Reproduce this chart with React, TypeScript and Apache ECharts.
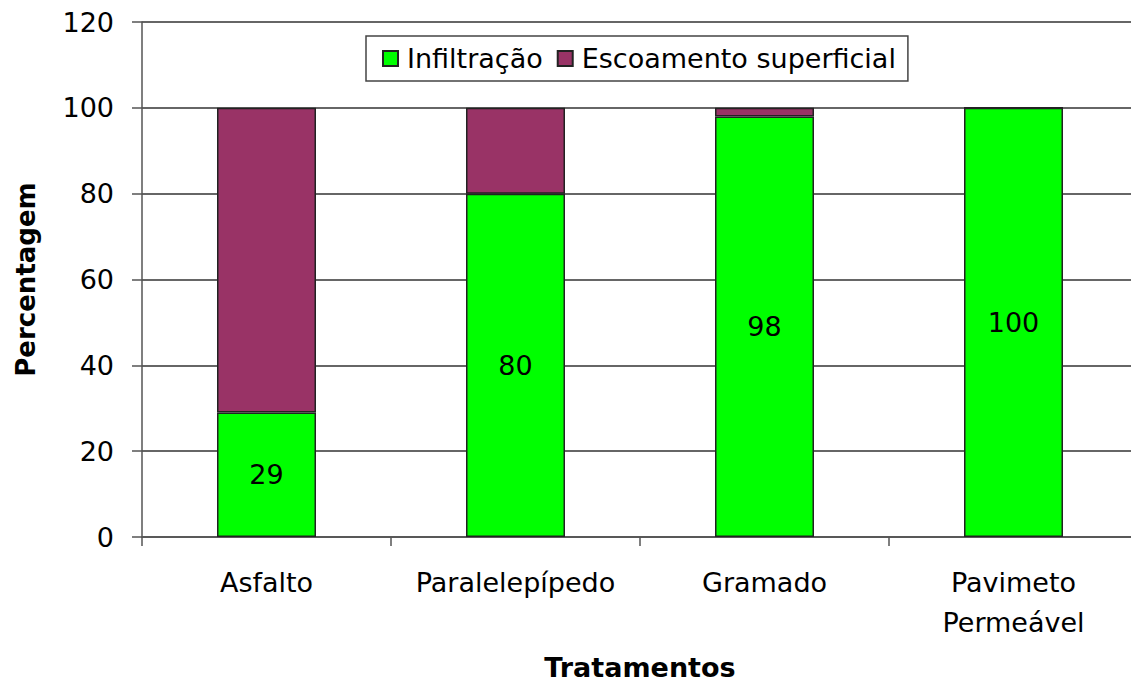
import React, { useEffect, useRef } from "react";
import * as echarts from "echarts";

const categories = ["Asfalto", "Paralelepípedo", "Gramado", "Pavimeto\nPermeável"];
const infiltracao = [29, 80, 98, 100];
const escoamento = [71, 20, 2, 0];
const seriesNames = ["Infiltração", "Escoamento superficial"];
const yTicks = { min: 0, max: 120, interval: 20 };

const FONT = "DejaVu Sans";

export default function App() {
  const ref = useRef<HTMLDivElement>(null);
  useEffect(() => {
    if (!ref.current) return;
    const chart = echarts.init(ref.current, null, { renderer: "svg" });
    chart.setOption({
      animation: false,
      textStyle: { fontFamily: FONT },
      grid: { left: 142, top: 22, width: 996, height: 515, outerBoundsMode: "none", containLabel: false },
      legend: {
        left: 366,
        top: 36,
        padding: [9, 12, 9, 16],
        borderColor: "#444",
        borderWidth: 1.5,
        itemWidth: 15,
        itemHeight: 15,
        itemGap: 14,
        icon: "rect",
        textStyle: { fontSize: 27, color: "#000", fontFamily: FONT, padding: [0, 0, 0, 4] },
        data: seriesNames,
      },
      xAxis: {
        type: "category",
        data: categories,
        boundaryGap: true,
        axisLine: { show: true, lineStyle: { color: "#555", width: 1.5 } },
        axisTick: { show: true, interval: 0, length: 9, alignWithLabel: false, lineStyle: { color: "#555", width: 1.5 } },
        axisLabel: { interval: 0, hideOverlap: false, fontSize: 27, color: "#000", margin: 25, lineHeight: 40, fontFamily: FONT },
        name: "Tratamentos",
        nameLocation: "middle",
        nameGap: 117,
        nameTextStyle: { fontSize: 27, fontWeight: "bold", color: "#000", fontFamily: FONT },
      },
      yAxis: {
        type: "value",
        min: yTicks.min,
        max: yTicks.max,
        interval: yTicks.interval,
        axisLine: { show: true, lineStyle: { color: "#555", width: 1.5 } },
        axisTick: { show: true, length: 10, lineStyle: { color: "#555", width: 1.5 } },
        axisLabel: { fontSize: 27, color: "#000", margin: 28, fontFamily: FONT },
        splitLine: { show: true, lineStyle: { color: "#333", width: 1.5 } },
        name: "Percentagem",
        nameLocation: "middle",
        nameGap: 103,
        nameTextStyle: { fontSize: 26, fontWeight: "bold", color: "#000", fontFamily: FONT },
      },
      series: [
        {
          name: seriesNames[0],
          type: "bar",
          stack: "total",
          barWidth: 99,
          data: infiltracao,
          itemStyle: { color: "#00ff00", borderColor: "#222", borderWidth: 1.5 },
          label: {
            show: true,
            position: "inside",
            fontSize: 27,
            color: "#000",
            fontFamily: FONT,
          },
        },
        {
          name: seriesNames[1],
          type: "bar",
          stack: "total",
          barWidth: 99,
          data: escoamento,
          itemStyle: { color: "#993366", borderColor: "#222", borderWidth: 1.5 },
        },
      ],
    });
    return () => chart.dispose();
  }, []);
  return (
    <div
      ref={ref}
      style={{ position: "absolute", left: 0, top: 0, width: 1131, height: 686, background: "#fff" }}
    />
  );
}
